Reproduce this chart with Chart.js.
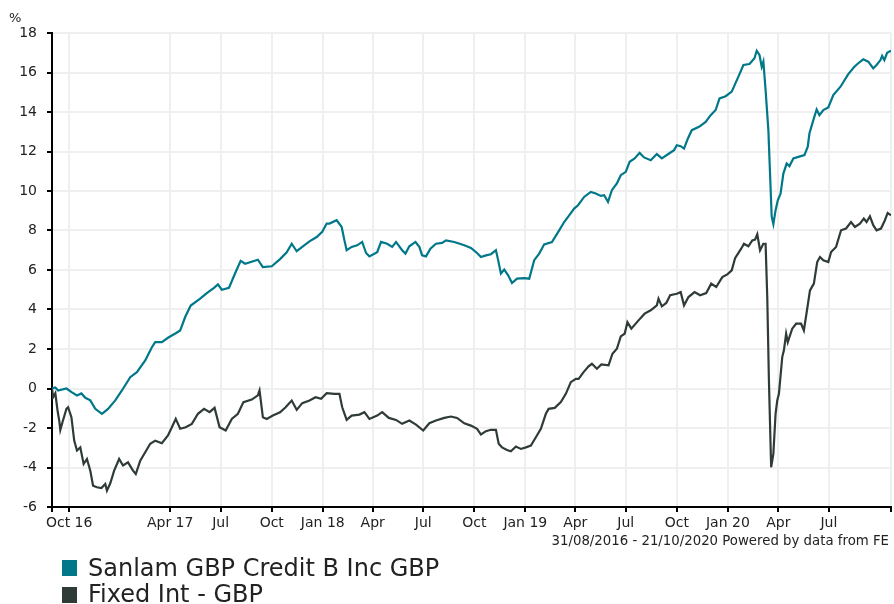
<!DOCTYPE html>
<html>
<head>
<meta charset="utf-8">
<script src="https://cdn.jsdelivr.net/npm/chart.js@4/dist/chart.umd.min.js"></script>
<style>
  body { margin: 0; background: #fff; font-family: 'DejaVu Sans', Verdana, sans-serif; color: #222; }
  #wrap { position: relative; width: 894px; height: 604px; overflow: hidden; }
  #myChart { position: absolute; left: 0; top: 0; }
  .txt { position: absolute; white-space: nowrap; }
  .box { position: absolute; width: 15px; height: 16px; }
</style>
</head>
<body>
<div id="wrap">
  <canvas id="myChart" width="894" height="604"></canvas>
  <div class="txt" style="left:9px;top:11px;font-size:13px;line-height:13px;">%</div>
  <div class="txt" style="right:5px;top:534px;font-size:13.3px;line-height:13px;">31/08/2016 - 21/10/2020 Powered by data from FE</div>
  <div class="box" style="left:62px;top:560px;background:#00788a;"></div>
  <div class="txt" style="left:88px;top:555px;font-size:24px;line-height:27px;">Sanlam GBP Credit B Inc GBP</div>
  <div class="box" style="left:62px;top:587px;background:#2f3b37;"></div>
  <div class="txt" style="left:88px;top:581px;font-size:24px;line-height:27px;">Fixed Int - GBP</div>
</div>
<script>
// days since 31/08/2016, values in %
const fundName = 'Sanlam GBP Credit B Inc GBP';
const sectorName = 'Fixed Int - GBP';

const fundDays = [0,6,11,26,36,45,53,60,69,78,90,101,114,126,141,153,168,180,186,198,209,223,231,240,250,267,279,292,299,306,319,331,340,348,371,380,396,411,423,432,441,451,464,477,487,495,500,513,522,527,531,540,550,559,566,572,586,593,604,613,620,631,637,644,655,662,667,674,682,692,703,710,725,743,755,766,773,782,791,800,804,809,815,822,829,838,851,860,869,878,887,901,914,923,932,941,948,959,971,980,989,995,1002,1009,1018,1025,1034,1041,1050,1059,1067,1079,1090,1099,1112,1121,1126,1133,1139,1146,1153,1166,1178,1187,1196,1203,1214,1225,1237,1246,1257,1266,1270,1275,1279,1282,1286,1291,1297,1300,1304,1308,1313,1318,1324,1329,1336,1345,1356,1362,1365,1372,1378,1383,1390,1399,1408,1421,1435,1446,1453,1462,1471,1480,1486,1493,1496,1500,1505,1512];
const fundValues = [0.0,0.05,-0.1,0.0,-0.2,-0.35,-0.25,-0.47,-0.6,-1.03,-1.28,-1.03,-0.6,-0.1,0.57,0.83,1.42,2.09,2.35,2.35,2.57,2.8,2.94,3.62,4.2,4.55,4.83,5.1,5.27,5.0,5.1,5.9,6.46,6.32,6.52,6.15,6.19,6.55,6.9,7.33,6.95,7.17,7.45,7.67,7.93,8.35,8.35,8.52,8.18,7.5,7.0,7.17,7.25,7.42,6.86,6.69,6.9,7.42,7.33,7.17,7.42,7.0,6.83,7.2,7.42,7.17,6.74,6.69,7.08,7.33,7.37,7.5,7.42,7.25,7.12,6.86,6.66,6.74,6.8,7.0,6.5,5.82,6.02,5.73,5.34,5.56,5.59,5.56,6.5,6.83,7.3,7.42,8.01,8.43,8.77,9.11,9.28,9.7,9.95,9.87,9.75,9.79,9.45,10.04,10.38,10.8,10.97,11.48,11.65,11.93,11.7,11.56,11.87,11.65,11.9,12.07,12.32,12.27,12.15,12.66,13.08,13.25,13.5,13.84,14.1,14.69,14.8,15.03,15.79,16.38,16.43,16.72,17.1,16.89,16.29,16.55,15.11,13.08,8.7,8.32,9.03,9.53,9.87,10.88,11.39,11.26,11.65,11.73,11.82,12.24,12.91,13.59,14.13,13.84,14.1,14.23,14.86,15.28,15.92,16.29,16.47,16.67,16.55,16.21,16.38,16.63,16.84,16.63,17.0,17.1];

const sectorDays = [0,2,6,10,13,15,19,26,29,35,40,45,51,57,63,69,74,81,89,96,99,105,112,121,128,137,146,151,159,168,177,186,198,209,216,223,231,241,252,263,274,284,293,302,313,324,335,345,360,371,374,380,387,398,411,421,432,441,451,464,475,485,495,509,518,523,531,540,554,563,572,586,595,607,620,631,644,656,669,680,692,707,719,730,743,755,766,773,782,791,800,805,811,820,827,836,845,854,863,872,881,890,895,906,917,926,935,944,949,958,967,973,982,990,1003,1010,1018,1025,1032,1037,1044,1057,1068,1079,1090,1093,1099,1107,1114,1126,1133,1139,1147,1158,1168,1179,1188,1197,1208,1217,1225,1231,1242,1247,1255,1262,1267,1271,1276,1282,1286,1289,1292,1296,1300,1304,1307,1310,1316,1319,1323,1326,1334,1341,1350,1355,1361,1366,1373,1379,1384,1390,1399,1404,1413,1422,1431,1440,1447,1456,1463,1468,1474,1480,1486,1494,1501,1506,1512];
const sectorValues = [0.0,-0.44,-0.24,-1.12,-1.62,-2.1,-1.7,-1.03,-0.95,-1.45,-2.64,-3.14,-2.98,-3.82,-3.57,-4.16,-4.92,-5.0,-5.04,-4.83,-5.17,-4.8,-4.16,-3.57,-3.9,-3.74,-4.16,-4.33,-3.65,-3.23,-2.8,-2.64,-2.77,-2.38,-1.96,-1.54,-2.04,-1.96,-1.79,-1.28,-1.03,-1.2,-0.98,-1.96,-2.13,-1.54,-1.28,-0.69,-0.56,-0.35,-0.1,-1.45,-1.54,-1.37,-1.2,-0.95,-0.61,-1.08,-0.74,-0.61,-0.44,-0.52,-0.24,-0.27,-0.27,-0.95,-1.59,-1.37,-1.32,-1.2,-1.54,-1.37,-1.2,-1.49,-1.59,-1.79,-1.62,-1.83,-2.13,-1.76,-1.62,-1.49,-1.42,-1.49,-1.76,-1.88,-2.04,-2.33,-2.16,-2.09,-2.09,-2.8,-2.98,-3.11,-3.18,-2.94,-3.06,-2.98,-2.89,-2.47,-2.04,-1.28,-1.03,-0.98,-0.69,-0.27,0.32,0.49,0.49,0.83,1.12,1.25,1.0,1.22,1.17,1.76,2.01,2.64,2.77,3.36,3.03,3.45,3.79,3.96,4.21,4.55,4.16,4.33,4.72,4.8,4.88,4.21,4.63,4.88,4.72,4.83,5.31,5.14,5.64,5.78,5.98,6.6,7.08,7.33,7.2,7.5,7.54,7.81,7.0,7.33,7.33,4.63,0.41,-3.99,-3.31,-1.28,-0.61,-0.27,1.59,1.93,2.77,2.35,3.03,3.28,3.28,2.94,4.04,4.97,5.31,6.4,6.66,6.49,6.4,6.91,7.17,8.01,8.1,8.43,8.18,8.35,8.61,8.43,8.72,8.27,8.01,8.1,8.52,8.89,8.77];

const tickDays = [0,31,213,304,396,488,578,669,761,853,943,1034,1126,1218,1309,1400,1512];
const tickLabels = ['','Oct 16','Apr 17','Jul','Oct','Jan 18','Apr','Jul','Oct','Jan 19','Apr','Jul','Oct','Jan 20','Apr','Jul',''];

Chart.defaults.font.family = "'DejaVu Sans', Verdana, sans-serif";
Chart.defaults.font.size = 14;
Chart.defaults.color = '#222';

let toPoints = (days, vals) => days.map((d, i) => ({ x: d, y: vals[i] }));

let ctx = document.getElementById('myChart').getContext('2d');
let chart = new Chart(ctx, {
  type: 'line',
  data: {
    datasets: [
      {
        label: fundName,
        data: toPoints(fundDays, fundValues),
        borderColor: '#00788a',
        backgroundColor: '#00788a',
        borderWidth: 2.2,
        pointRadius: 0,
        tension: 0
      },
      {
        label: sectorName,
        data: toPoints(sectorDays, sectorValues),
        borderColor: '#2f3b37',
        backgroundColor: '#2f3b37',
        borderWidth: 2.2,
        pointRadius: 0,
        tension: 0
      }
    ]
  },
  options: {
    responsive: false,
    animation: false,
    layout: { padding: { top: 33, right: 1, left: 0, bottom: 0 } },
    plugins: { legend: { display: false }, tooltip: { enabled: false } },
    scales: {
      x: {
        type: 'linear',
        min: 0,
        max: 1512,
        afterBuildTicks: scale => {
          scale.ticks = tickDays.map(v => ({ value: v }));
        },
        afterFit: scale => { scale.height = 97; },
        ticks: {
          autoSkip: false,
          maxRotation: 0,
          padding: 3,
          callback: v => {
            let i = tickDays.indexOf(v);
            return i >= 0 ? tickLabels[i] : '';
          }
        },
        grid: { color: '#efefef', lineWidth: 2, tickLength: 5, tickColor: '#000', tickWidth: 2 },
        border: { color: '#000', width: 2 }
      },
      y: {
        min: -6,
        max: 18,
        afterFit: scale => { scale.width = 52; },
        ticks: { stepSize: 2, padding: 10 },
        grid: { color: '#efefef', lineWidth: 2, tickLength: 5, tickColor: '#000', tickWidth: 2 },
        border: { color: '#000', width: 2 }
      }
    }
  }
});
</script>
</body>
</html>
